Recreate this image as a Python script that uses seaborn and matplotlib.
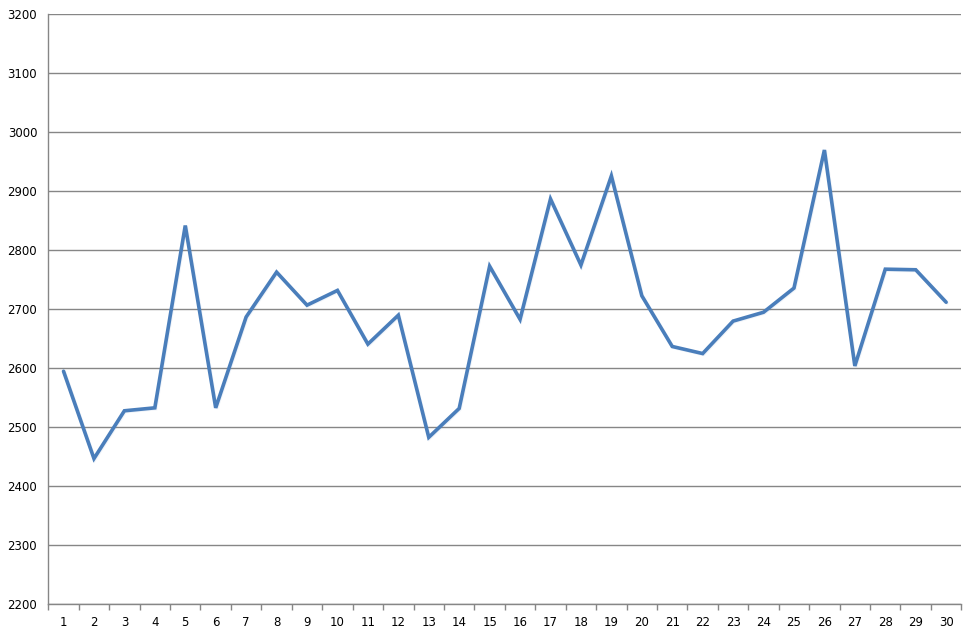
import matplotlib
import matplotlib.pyplot as plt
import matplotlib.patheffects as pe
import pandas as pd
import seaborn as sns

matplotlib.use('Agg')

days = list(range(1, 31))
values = [2595, 2447, 2528, 2533, 2842, 2533, 2687, 2763, 2707, 2732,
          2641, 2690, 2483, 2532, 2773, 2683, 2887, 2775, 2926, 2723,
          2637, 2625, 2680, 2695, 2736, 2970, 2604, 2768, 2767, 2712]
y_ticks = list(range(2200, 3201, 100))


def main():
    df = pd.DataFrame({'day': days, 'value': values})

    sns.set_theme(style="white")
    plt.rcParams.update({'font.family': ['DejaVu Sans'], 'font.size': 8.5})

    fig = plt.figure(figsize=(9.76, 6.38), dpi=100)
    ax = fig.add_axes([0.0495, 0.0528, 0.9355, 0.9248])

    sns.lineplot(data=df, x='day', y='value', ax=ax, color='#4A7EBB',
                 linewidth=2.6, solid_joinstyle='miter',
                 path_effects=[pe.SimpleLineShadow(offset=(0.6, -0.6), alpha=0.08,
                                                   shadow_color='#4A7EBB'),
                               pe.Normal()])

    ax.set_xlim(0.5, 30.5)
    ax.set_ylim(2200, 3200)
    ax.set_yticks(y_ticks)
    ax.set_yticklabels([str(t) for t in y_ticks], color='black')
    ax.set_xticks(days)
    ax.set_xticklabels([str(d) for d in days], color='black')
    ax.set_xticks([d + 0.5 for d in range(0, 31)], minor=True)
    ax.tick_params(axis='x', which='major', length=0, pad=8.5, labelsize=8.5)
    ax.tick_params(axis='x', which='minor', length=4, width=1,
                   color='#868686', direction='out', bottom=True)
    ax.tick_params(axis='y', which='major', length=0, pad=8, labelsize=8.5)
    ax.set_xlabel('')
    ax.set_ylabel('')

    ax.yaxis.grid(True, color='#868686', linewidth=1)
    ax.xaxis.grid(False)
    ax.set_axisbelow(True)
    for side in ['top', 'right']:
        ax.spines[side].set_visible(False)
    for side in ['left', 'bottom']:
        ax.spines[side].set_color('#868686')
        ax.spines[side].set_linewidth(1)

    fig.savefig('out.png', dpi=100)
    plt.close(fig)


if __name__ == "__main__":
    main()
